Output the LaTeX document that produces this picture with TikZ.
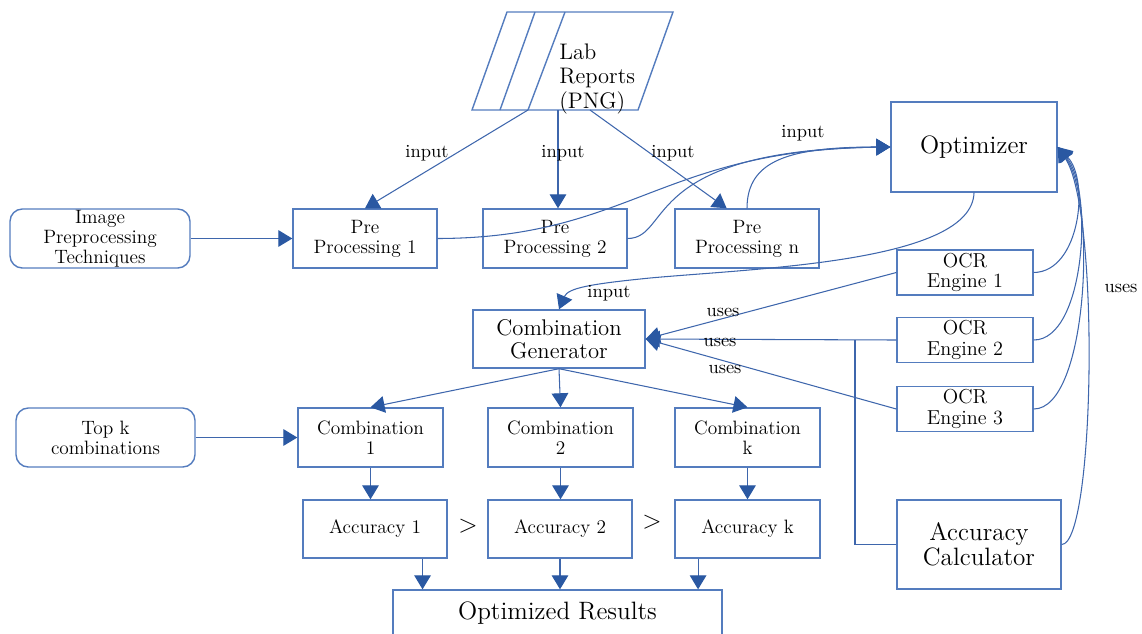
\documentclass[tikz,border=0pt]{standalone}
\usetikzlibrary{arrows.meta, positioning}
\usepackage{xcolor}

\definecolor{boxblue}{RGB}{84,124,190}
\definecolor{lineblue}{RGB}{62,102,172}
\definecolor{tipblue}{RGB}{42,88,162}

\newcommand{\fntsmall}{\rmfamily\fontsize{11}{11.5}\selectfont}
\newcommand{\fntbig}{\rmfamily\fontsize{14.3}{14}\selectfont}

\tikzset{
  box/.style={draw=boxblue, line width=0.8pt, rectangle, align=center, inner sep=0pt, font=\fntsmall},
  roundbox/.style={box, rounded corners=7pt},
  link/.style={draw=lineblue, line width=0.6pt},
  arr/.style={link, -{Triangle[length=8pt, width=9.5pt, color=tipblue]}},
  lbl/.style={font=\rmfamily\fontsize{10.5}{12}\selectfont, inner sep=0pt}
}

\begin{document}
\begin{tikzpicture}[x=0.02cm, y=-0.02cm]
  \useasboundingbox (0,0) rectangle (1142,633);

  % input data
  \draw[box] (507,12) -- (673,12) -- (638,110) -- (472,110) -- cycle;
  \draw[box] (535,12) -- (500,110);
  \draw[box] (565,12) -- (528,110);
  \node[anchor=west, align=left, inner sep=0pt, font=\rmfamily\fontsize{12.8}{13.7}\selectfont] (lab) at (559,79) {Lab\\Reports\\(PNG)};
  \coordinate (lab1) at (528,110);
  \coordinate (lab2) at (558,110);
  \coordinate (lab3) at (590,110);

  % preprocessing row
  \node[roundbox, minimum width=3.6cm, minimum height=1.18cm] (imgprep) at (100,238.5) {Image\\Preprocessing\\Techniques};
  \node[box, minimum width=2.88cm, minimum height=1.18cm] (pp1) at (365,238.5) {Pre\\Processing 1};
  \node[box, minimum width=2.88cm, minimum height=1.18cm] (pp2) at (555,238.5) {Pre\\Processing 2};
  \node[box, minimum width=2.88cm, minimum height=1.18cm] (ppn) at (747,238.5) {Pre\\Processing n};

  % optimizer and engines
  \node[box, font=\fntbig, minimum width=3.32cm, minimum height=1.8cm] (opt) at (974,147) {Optimizer};
  \node[box, font=\rmfamily\fontsize{11.5}{11.5}\selectfont, minimum width=2.72cm, minimum height=0.9cm] (ocr1) at (965,272.5) {OCR\\Engine 1};
  \node[box, font=\rmfamily\fontsize{11.5}{11.5}\selectfont, minimum width=2.72cm, minimum height=0.9cm] (ocr2) at (965,340) {OCR\\Engine 2};
  \node[box, font=\rmfamily\fontsize{11.5}{11.5}\selectfont, minimum width=2.72cm, minimum height=0.9cm] (ocr3) at (965,409) {OCR\\Engine 3};
  \node[box, font=\fntbig, minimum width=3.28cm, minimum height=1.78cm] (acccalc) at (979,544.5) {Accuracy\\Calculator};
  \node[box, font=\rmfamily\fontsize{12.9}{13}\selectfont, minimum width=3.44cm, minimum height=1.16cm] (combgen) at (559,339) {Combination\\Generator};

  % combinations
  \node[roundbox, minimum width=3.58cm, minimum height=1.18cm] (topk) at (105.5,437.5) {Top k\\combinations};
  \node[box, minimum width=2.9cm, minimum height=1.18cm] (comb1) at (370.5,437.5) {Combination\\1};
  \node[box, minimum width=2.9cm, minimum height=1.18cm] (comb2) at (560.5,437.5) {Combination\\2};
  \node[box, minimum width=2.9cm, minimum height=1.18cm] (combk) at (747.5,437.5) {Combination\\k};

  % accuracies
  \node[box, minimum width=2.88cm, minimum height=1.16cm] (acc1) at (375,529) {Accuracy 1};
  \node[box, minimum width=2.88cm, minimum height=1.16cm] (acc2) at (560,529) {Accuracy 2};
  \node[box, minimum width=2.9cm, minimum height=1.16cm] (acck) at (747.5,529) {Accuracy k};
  \node[lbl, font=\fontsize{15}{15}\selectfont] (gt1) at (468,526) {$>$};
  \node[lbl, font=\fontsize{15}{15}\selectfont] (gt2) at (652,522) {$>$};
  \node[box, font=\fntbig, minimum width=6.58cm, minimum height=0.92cm] (results) at (557.5,613) {Optimized Results};

  % edges
  \draw[arr] (lab1) -- (pp1.north);
  \draw[arr] (lab2) -- (lab2 |- pp2.north);
  \draw[arr] (lab3) -- (ppn.124);
  \draw[arr] (imgprep) -- (pp1);

  \draw[arr] (pp1.east) .. controls (630,238) and (660,150) .. (opt.west);
  \draw[arr] (pp2.east) .. controls (672,238) and (640,150) .. (opt.west);
  \draw[arr] (ppn.north) .. controls (747,160) and (790,147) .. (opt.west);

  \draw[arr] (opt.south) .. controls (972,262) and (760,268) .. (650,278) .. controls (590,284) and (568,288) .. (combgen.north);

  \draw[arr] (ocr1.west) -- (combgen.east);
  \draw[arr] (ocr2.west) -- (combgen.east);
  \draw[arr] (ocr3.west) -- (combgen.east);
  \coordinate (joint) at (855,340);
  \draw[link] (acccalc.west) -| (joint);

  \draw[arr] (ocr1.east) .. controls (1080,272) and (1090,180) .. (opt.east);
  \draw[arr] (ocr2.east) .. controls (1085,340) and (1094,190) .. (opt.east);
  \draw[arr] (ocr3.east) .. controls (1088,409) and (1097,200) .. (opt.east);
  \draw[arr] (acccalc.east) .. controls (1095,544) and (1100,210) .. (opt.east);

  \draw[arr] (combgen.south) -- (comb1.north);
  \draw[arr] (combgen.south) -- (comb2.north);
  \draw[arr] (combgen.south) -- (combk.north);
  \draw[arr] (topk) -- (comb1);

  \draw[arr] (comb1.south) -- (comb1.south |- acc1.north);
  \draw[arr] (comb2.south) -- (comb2.south |- acc2.north);
  \draw[arr] (combk.south) -- (combk.south |- acck.north);

  \draw[arr] (acc1.-32) -- (acc1.-32 |- results.north);
  \draw[arr] (acc2.south) -- (acc2.south |- results.north);
  \draw[arr] (acck.-149) -- (acck.-149 |- results.north);

  % edge labels
  \node[lbl] (in1) at (427,153) {input};
  \node[lbl] (in2) at (563,153) {input};
  \node[lbl] (in3) at (673,153) {input};
  \node[lbl] (in4) at (803,133) {input};
  \node[lbl] (in5) at (609,293) {input};
  \node[lbl] (us1) at (723,312) {uses};
  \node[lbl] (us2) at (720,342) {uses};
  \node[lbl] (us3) at (725,369) {uses};
  \node[lbl] (us4) at (1121,288) {uses};
\end{tikzpicture}
\end{document}
